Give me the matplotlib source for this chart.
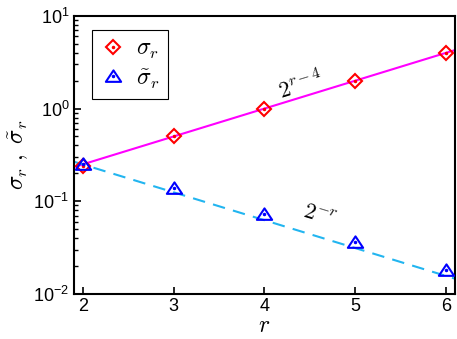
import matplotlib
matplotlib.use("Agg")
import matplotlib.pyplot as plt
import numpy as np
from matplotlib.path import Path
from matplotlib.legend_handler import HandlerTuple

plt.rcParams['font.family'] = ['Liberation Sans', 'DejaVu Sans']
plt.rcParams['mathtext.fontset'] = 'cm'

r = [2, 3, 4, 5, 6]
sigma = [0.24, 0.5, 1.0, 2.0, 4.0]
sigma_t = [0.25, 0.14, 0.072, 0.036, 0.018]
fit_x = [1.9, 6.1]
fit_up = [2.0 ** (x - 4) for x in fit_x]
fit_dn = [2.0 ** (-x) for x in fit_x]

tri = Path([(-1, -0.7), (1, -0.7), (0, 0.8), (-1, -0.7)],
           [Path.MOVETO, Path.LINETO, Path.LINETO, Path.CLOSEPOLY])

fig = plt.figure(figsize=(4.57, 3.39), dpi=100)
ax = fig.add_axes([0.161, 0.133, 0.835, 0.820])

ax.plot(fit_x, fit_up, '-', color='#FF00FF', lw=1.5, zorder=2)
ax.plot(fit_x, fit_dn, '--', color='#22B5F0', lw=1.5, dashes=(6, 4), zorder=2)

d1, = ax.plot(r, sigma, ls='none', marker='D', ms=7, mfc='none', mec='red', mew=1.5, zorder=3)
d2, = ax.plot(r, sigma, ls='none', marker='o', ms=1.5, mfc='red', mec='red', zorder=3)
t1, = ax.plot(r, sigma_t, ls='none', marker=tri, ms=11, mfc='none', mec='blue', mew=1.5, zorder=4)
t2, = ax.plot(r, sigma_t, ls='none', marker='o', ms=1.5, mfc='blue', mec='blue', zorder=4)

ax.set_yscale('log')
ax.set_xlim(1.9, 6.1)
ax.set_ylim(1e-2, 1e1)
ax.set_xticks([2, 3, 4, 5, 6])

ax.tick_params(which='both', direction='in', top=False, right=False, labelsize=13)
ax.tick_params(which='major', length=5, width=1.2, pad=3)
ax.tick_params(which='minor', length=3, width=1.0)
for s in ax.spines.values():
    s.set_linewidth(1.5)

ax.set_xlabel(r'$r$', fontsize=17, labelpad=0)
ax.set_ylabel(r'$\sigma_r\ ,\ \tilde{\sigma}_r$', fontsize=17, labelpad=2)

ax.text(4.4, 1.75, r'$2^{r-4}$', fontsize=16, rotation=17, ha='center', va='center')
ax.text(4.6, 0.068, r'$2^{-r}$', fontsize=16, rotation=-17, ha='center', va='center')

leg = ax.legend([(d1, d2), (t1, t2)], [r'$\sigma_r$', r'$\tilde{\sigma}_r$'],
                handler_map={tuple: HandlerTuple(ndivide=1, pad=0)},
                loc='upper left', bbox_to_anchor=(0.048, 0.95), fontsize=17,
                frameon=True, fancybox=False, framealpha=1, edgecolor='black',
                handlelength=1.1, handletextpad=0.4, borderpad=0.35, labelspacing=0.25,
                borderaxespad=0)
leg.get_frame().set_linewidth(0.8)

fig.savefig('out.png', dpi=100)
